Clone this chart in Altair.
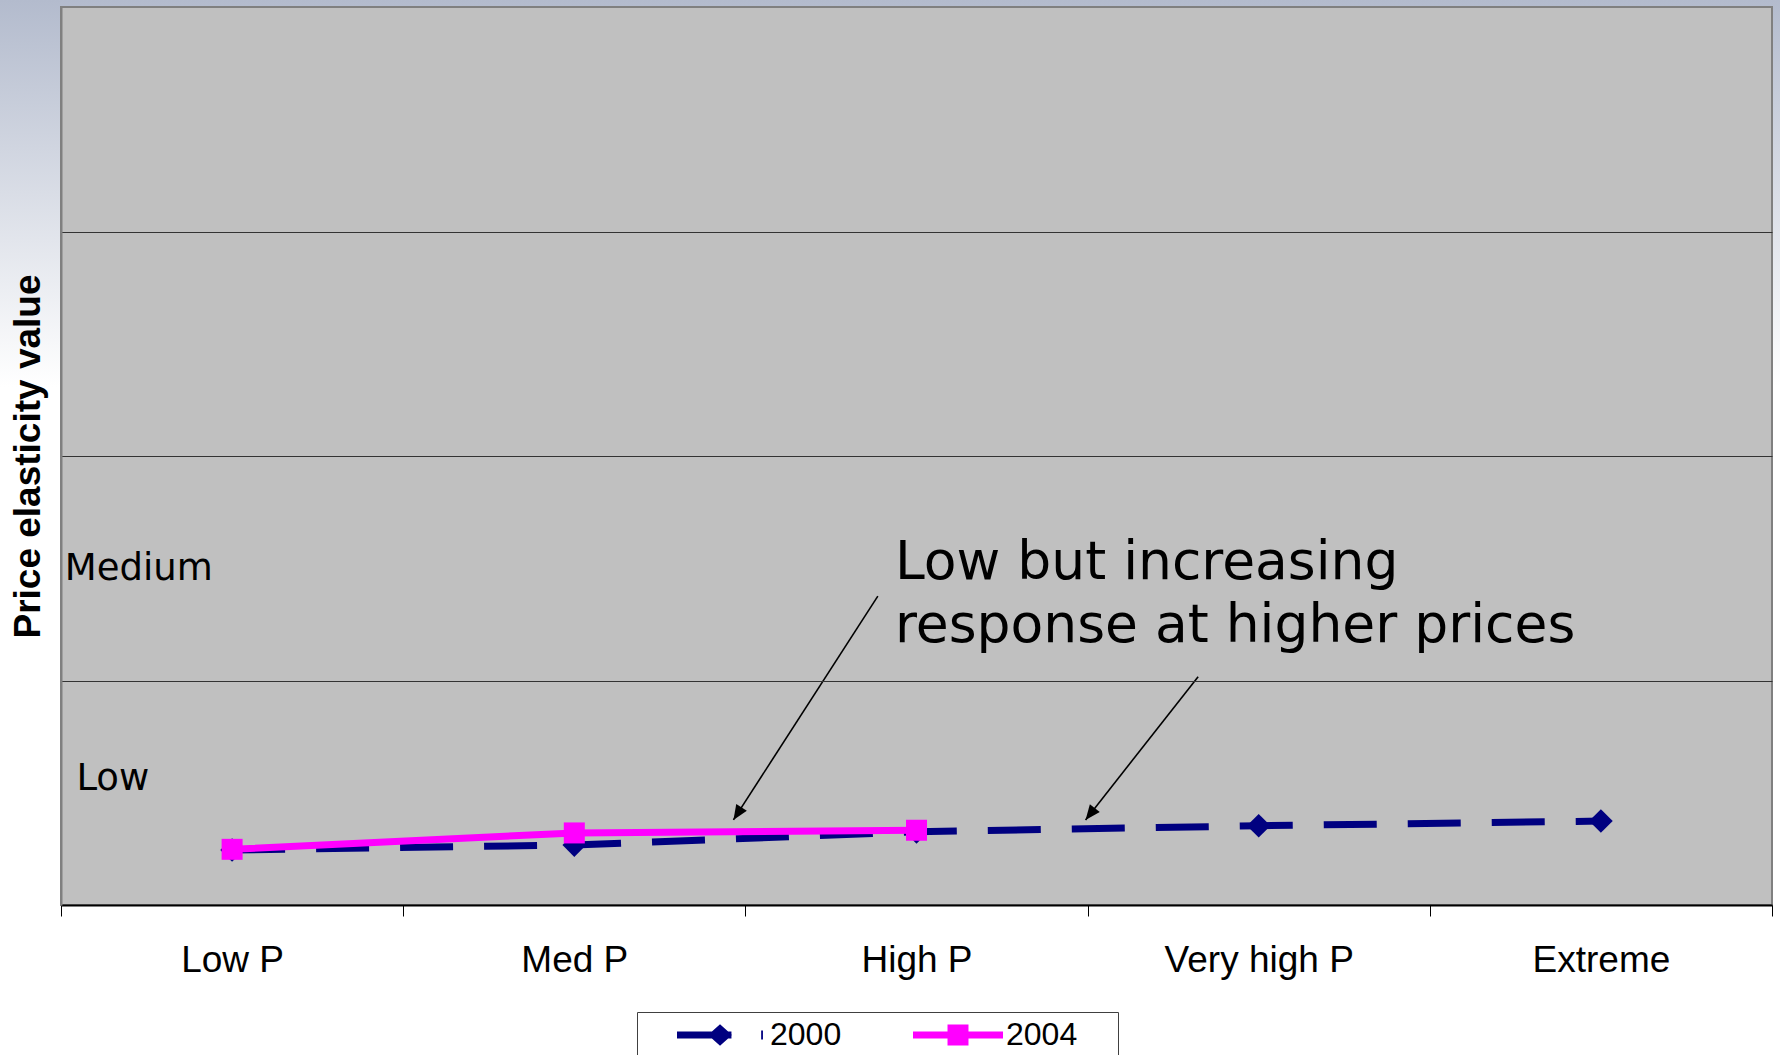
import math

import altair as alt
import pandas as pd

# ---- chart values -------------------------------------------------------
categories = ["Low P", "Med P", "High P", "Very high P", "Extreme"]
years = ["2000", "2004"]
elasticity_2000 = [0.245, 0.267, 0.326, 0.353, 0.374]
elasticity_2004 = [0.248, 0.321, 0.333]
series_colors = ["#000080", "#ff00ff"]

# qualitative level labels written inside the plot (x in category units, y in value units)
level_labels = ["Medium", "Low"]
level_label_x = [0.011, 0.045]
level_label_y = [1.448, 0.512]

# callout text and its two arrows
note_lines = ["Low but increasing", "response at higher prices"]
note_x = [2.437, 2.437]
note_y = [1.452, 1.171]
arrow_from_x = [2.387, 3.323]
arrow_from_y = [1.376, 1.017]
arrow_to_x = [1.965, 2.994]
arrow_to_y = [0.379, 0.379]

# ---- layout -------------------------------------------------------------
W, H = 1711, 898
Y_MAX = 4
PX_X = W / len(categories)
PX_Y = H / Y_MAX

rows = []
for yr, vals in zip(years, [elasticity_2000, elasticity_2004]):
    for cat, v in zip(categories, vals):
        rows.append({"category": cat, "year": yr, "value": v})
series = pd.DataFrame(rows)
s2000 = series[series.year == "2000"]
s2004 = series[series.year == "2004"]

levels = pd.DataFrame({"label": level_labels, "lx": level_label_x, "ly": level_label_y})
notes = pd.DataFrame({"label": note_lines, "nx": note_x, "ny": note_y})
arrows = pd.DataFrame({
    "x0": arrow_from_x, "y0": arrow_from_y,
    "x1": arrow_to_x, "y1": arrow_to_y,
})
arrows["ang"] = [
    math.degrees(math.atan2((b - a) * PX_X, (d - c) * PX_Y)) % 360
    for a, b, c, d in zip(arrows.x0, arrows.x1, arrows.y0, arrows.y1)
]
one = pd.DataFrame({"k": [0]})

x_band = alt.Scale(type="band", domain=categories, paddingInner=0, paddingOuter=0)
y_scale = alt.Scale(domain=[0, Y_MAX])
x_lin = alt.Scale(domain=[0, len(categories)])
color_scale = alt.Scale(domain=years, range=series_colors)

# legend glyphs: a thick line segment carrying the series marker
GLYPH_2000 = ("M-1,-0.078H0.21V0.078H-1Z "
              "M-0.044,-0.24L0.223,0L-0.044,0.24L-0.311,0Z "
              "M0.87,-0.1H0.91V0.1H0.87Z")
GLYPH_2004 = ("M-1,-0.078H1V0.078H-1Z "
              "M-0.233,-0.233H0.233V0.233H-0.233Z")

# trailing blank room after each label (kept from trimming by a zero-width space)
LABEL_TAIL = "    \u200b"

legend = alt.Legend(
    title=None,
    orient="none",
    legendX=576,
    legendY=1005,
    direction="horizontal",
    padding=5,
    symbolSize=8100,
    clipHeight=36,
    symbolOffset=35,
    labelOffset=3,
    columnPadding=1,
    labelFont="Liberation Sans",
    labelFontSize=32,
    labelColor="black",
    labelExpr=f"datum.label + '{LABEL_TAIL}'",
    strokeColor="#404040",
    fillColor="#ffffff",
    symbolStrokeWidth=0,
    symbolOpacity=1,
    symbolType={"expr": f"datum.value === '2000' ? '{GLYPH_2000}' : '{GLYPH_2004}'"},
)

# page background with a soft blue-grey fade at the top
backdrop = alt.Chart(one).mark_rect(
    color=alt.LinearGradient(
        gradient="linear",
        stops=[alt.GradientStop(color="#b3bbcd", offset=0),
               alt.GradientStop(color="#ffffff", offset=1)],
        x1=0, x2=0, y1=0, y2=1,
    )
).encode(x=alt.value(-61), x2=alt.value(W + 8), y=alt.value(-7), y2=alt.value(380))

plot_bg = alt.Chart(one).mark_rect(
    color="#c0c0c0", stroke="#808080", strokeWidth=2
).encode(x=alt.value(0), x2=alt.value(W), y=alt.value(0), y2=alt.value(H))

x_axis = alt.Axis(
    title=None, labelAngle=0, tickBand="extent", tickSize=11, tickColor="black",
    tickWidth=1, domainColor="black", domainWidth=2, labelFont="Liberation Sans",
    labelFontSize=37, labelColor="black", labelPadding=26, labelLimit=0,
    grid=False, zindex=1,
)
y_axis = alt.Axis(
    title="Price elasticity value", values=[1, 2, 3], labels=False, ticks=False,
    grid=True, gridColor="#333333", gridWidth=1, domainColor="#808080",
    domainWidth=2, titleFont="Liberation Sans", titleFontSize=37,
    titleFontWeight="bold", titleColor="black", titleAngle=270,
    titleAlign="center", titleBaseline="middle", titleX=-33, titleY=H / 2,
    zindex=1,
)

line_2000 = alt.Chart(s2000).mark_line(
    strokeWidth=7, color=series_colors[0], strokeDash=[53, 31]
).encode(
    x=alt.X("category:N", scale=x_band, sort=categories, axis=x_axis),
    y=alt.Y("value:Q", scale=y_scale, axis=y_axis),
)

line_2004 = alt.Chart(s2004).mark_line(strokeWidth=7, color=series_colors[1]).encode(
    x=alt.X("category:N", scale=x_band, sort=categories, axis=None),
    y=alt.Y("value:Q", scale=y_scale, axis=None),
)

diamonds = alt.Chart(s2000).mark_point(
    shape="diamond", filled=True, opacity=1, size=560, strokeWidth=0
).encode(
    x=alt.X("category:N", scale=x_band, sort=categories, axis=None),
    y=alt.Y("value:Q", scale=y_scale, axis=None),
    color=alt.Color("year:N", scale=color_scale, legend=legend),
)

squares = alt.Chart(s2004).mark_point(
    shape="square", filled=True, opacity=1, size=441, strokeWidth=0
).encode(
    x=alt.X("category:N", scale=x_band, sort=categories, axis=None),
    y=alt.Y("value:Q", scale=y_scale, axis=None),
    color=alt.Color("year:N", scale=color_scale, legend=legend),
)

level_text = alt.Chart(levels).mark_text(
    font="DejaVu Sans", fontSize=37, color="black", align="left", baseline="alphabetic"
).encode(
    x=alt.X("lx:Q", scale=x_lin, axis=None),
    y=alt.Y("ly:Q", scale=y_scale, axis=None),
    text="label:N",
)

note_text = alt.Chart(notes).mark_text(
    font="DejaVu Sans", fontSize=53.5, color="black", align="left", baseline="alphabetic"
).encode(
    x=alt.X("nx:Q", scale=x_lin, axis=None),
    y=alt.Y("ny:Q", scale=y_scale, axis=None),
    text="label:N",
)

arrow_shafts = alt.Chart(arrows).mark_rule(color="black", strokeWidth=1.6).encode(
    x=alt.X("x0:Q", scale=x_lin, axis=None),
    y=alt.Y("y0:Q", scale=y_scale, axis=None),
    x2="x1:Q",
    y2="y1:Q",
)

arrow_heads = alt.Chart(arrows).mark_point(
    shape="M0,0L-0.42,1L0.42,1Z", filled=True, opacity=1, color="black", size=900,
    strokeWidth=0,
).encode(
    x=alt.X("x1:Q", scale=x_lin, axis=None),
    y=alt.Y("y1:Q", scale=y_scale, axis=None),
    angle=alt.Angle("ang:Q", scale=None),
)

chart = alt.layer(
    backdrop, plot_bg, line_2000, diamonds, line_2004, squares,
    level_text, note_text, arrow_shafts, arrow_heads,
).resolve_scale(
    x="independent"
).resolve_axis(
    y="independent"
).properties(
    width=W,
    height=H,
    padding={"left": 61, "top": 7, "right": 8, "bottom": 150},
    autosize=alt.AutoSizeParams(type="none"),
).configure_view(stroke=None)

chart.save("out.html", embed_options={"renderer": "svg", "actions": False})
